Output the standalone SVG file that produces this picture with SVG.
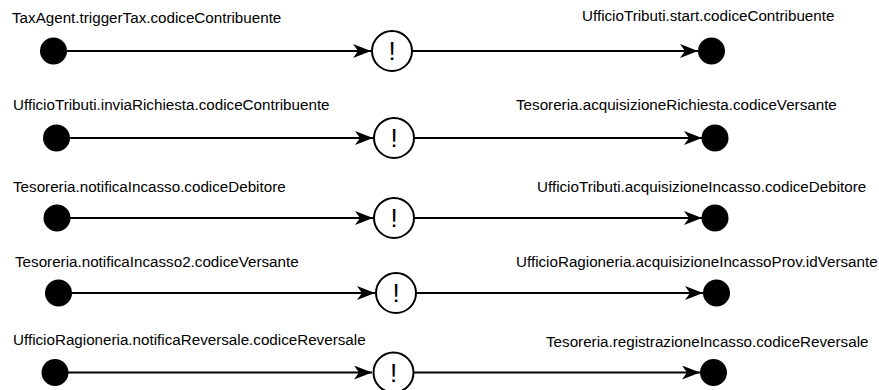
<svg xmlns="http://www.w3.org/2000/svg" width="879" height="390" viewBox="0 0 879 390">
  <style>
    .lbl { font-family: "Liberation Sans", Arial, Helvetica, sans-serif; font-size: 15.2px; fill: #000; }
    .bang { font-family: "Liberation Sans", Arial, Helvetica, sans-serif; font-size: 26px; fill: #000; text-anchor: middle; }
    .dot { fill: #000; }
    .gate { fill: #fff; stroke: #000; stroke-width: 2; }
    .edge { fill: none; stroke: #000; stroke-width: 2; marker-end: url(#arrow); }
  </style>
  <defs>
    <marker id="arrow" viewBox="0 0 18 14" refX="18" refY="7" markerWidth="18" markerHeight="14" markerUnits="userSpaceOnUse" orient="auto">
      <path d="M18 7 L0 0 L5 7 L0 14 Z" fill="#000"/>
    </marker>
  </defs>

  <!-- connectors -->
  <g id="edges">
    <line class="edge" x1="67" y1="51" x2="371" y2="51"/>
    <line class="edge" x1="412" y1="51" x2="698" y2="51"/>
    <line class="edge" x1="70" y1="138" x2="373" y2="138"/>
    <line class="edge" x1="414" y1="138" x2="702" y2="138"/>
    <line class="edge" x1="70" y1="218" x2="373" y2="218"/>
    <line class="edge" x1="414" y1="218" x2="702" y2="218"/>
    <line class="edge" x1="72" y1="293" x2="375" y2="293"/>
    <line class="edge" x1="416" y1="293" x2="703" y2="293"/>
    <line class="edge" x1="68" y1="372.5" x2="372" y2="372.5"/>
    <line class="edge" x1="414" y1="372.5" x2="700" y2="372.5"/>
  </g>

  <!-- row 1 -->
  <g id="src1"><circle class="dot" cx="53.5" cy="51" r="13.5"/><text class="lbl" x="12" y="23">TaxAgent.triggerTax.codiceContribuente</text></g>
  <g id="msg1"><circle class="gate" cx="392" cy="51" r="20"/><text class="bang" x="392" y="60">!</text></g>
  <g id="dst1"><circle class="dot" cx="711.5" cy="51" r="13.5"/><text class="lbl" x="582" y="21">UfficioTributi.start.codiceContribuente</text></g>

  <!-- row 2 -->
  <g id="src2"><circle class="dot" cx="56.5" cy="138" r="13.5"/><text class="lbl" x="13" y="110">UfficioTributi.inviaRichiesta.codiceContribuente</text></g>
  <g id="msg2"><circle class="gate" cx="394" cy="138" r="20"/><text class="bang" x="394" y="147">!</text></g>
  <g id="dst2"><circle class="dot" cx="715" cy="138" r="13.5"/><text class="lbl" x="516" y="110">Tesoreria.acquisizioneRichiesta.codiceVersante</text></g>

  <!-- row 3 -->
  <g id="src3"><circle class="dot" cx="57" cy="218" r="13.5"/><text class="lbl" x="13" y="192">Tesoreria.notificaIncasso.codiceDebitore</text></g>
  <g id="msg3"><circle class="gate" cx="394" cy="218" r="20"/><text class="bang" x="394" y="227">!</text></g>
  <g id="dst3"><circle class="dot" cx="715" cy="218" r="13.5"/><text class="lbl" x="537" y="192">UfficioTributi.acquisizioneIncasso.codiceDebitore</text></g>

  <!-- row 4 -->
  <g id="src4"><circle class="dot" cx="58.5" cy="293" r="13.5"/><text class="lbl" x="15" y="267">Tesoreria.notificaIncasso2.codiceVersante</text></g>
  <g id="msg4"><circle class="gate" cx="396" cy="293" r="20"/><text class="bang" x="396" y="302">!</text></g>
  <g id="dst4"><circle class="dot" cx="716.5" cy="293" r="13.5"/><text class="lbl" x="516" y="267">UfficioRagioneria.acquisizioneIncassoProv.idVersante</text></g>

  <!-- row 5 -->
  <g id="src5"><circle class="dot" cx="55" cy="372.5" r="13.5"/><text class="lbl" x="13" y="345">UfficioRagioneria.notificaReversale.codiceReversale</text></g>
  <g id="msg5"><circle class="gate" cx="393.5" cy="372.5" r="20"/><text class="bang" x="393.5" y="381.5">!</text></g>
  <g id="dst5"><circle class="dot" cx="713.5" cy="372.5" r="13.5"/><text class="lbl" x="546" y="347">Tesoreria.registrazioneIncasso.codiceReversale</text></g>
</svg>
